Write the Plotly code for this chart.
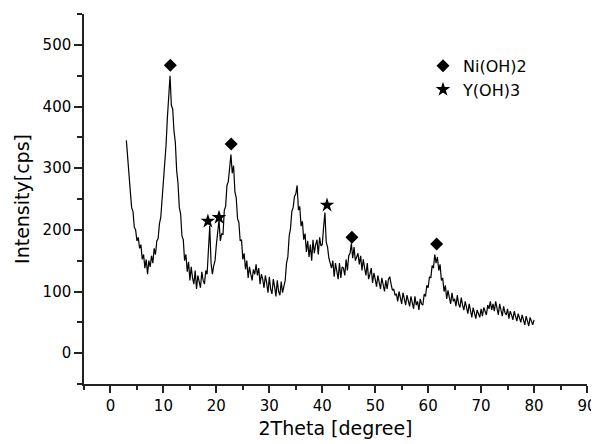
import plotly.graph_objects as go

# XRD pattern: intensity sampled every 0.25 degree starting at 2theta = 3.0
two_theta_start = 3.0
two_theta_step = 0.25
intensity = [
    345, 312, 278, 262,   # 3
    236, 230, 204, 200,   # 4
    182, 188, 170, 176,   # 5
    152, 160, 138, 152,   # 6
    128, 150, 140, 158,   # 7
    146, 170, 160, 182,   # 8
    186, 210, 220, 248,   # 9
    268, 302, 338, 382,   # 10
    420, 450, 402, 396,   # 11
    360, 342, 296, 276,   # 12
    236, 226, 190, 184,   # 13
    150, 160, 132, 148,   # 14
    118, 140, 122, 112,   # 15
    134, 104, 126, 116,   # 16
    106, 132, 118, 112,   # 17
    134, 128, 172, 206,   # 18
    146, 128, 142, 150,   # 19
    176, 194, 216, 182,   # 20
    194, 192, 232, 238,   # 21
    272, 278, 306, 322,   # 22
    292, 304, 262, 252,   # 23
    218, 212, 182, 184,   # 24
    152, 162, 136, 150,   # 25
    122, 140, 128, 118,   # 26
    136, 128, 144, 126,   # 27
    138, 112, 128, 120,   # 28
    106, 126, 114, 98,    # 29
    124, 104, 96, 120,    # 30
    108, 92, 118, 100,    # 31
    94, 116, 98, 110,     # 32
    118, 146, 156, 190,   # 33
    202, 230, 236, 254,   # 34
    258, 272, 232, 238,   # 35
    206, 214, 184, 194,   # 36
    164, 182, 156, 176,   # 37
    150, 184, 162, 176,   # 38
    184, 160, 188, 174,   # 39
    176, 204, 228, 180,   # 40
    172, 154, 146, 138,   # 41
    150, 124, 146, 132,   # 42
    120, 146, 122, 140,   # 43
    138, 126, 152, 134,   # 44
    158, 162, 178, 154,   # 45
    172, 150, 158, 162,   # 46
    144, 158, 134, 152,   # 47
    138, 126, 146, 120,   # 48
    128, 138, 114, 130,   # 49
    120, 108, 126, 114,   # 50
    104, 122, 110, 100,   # 51
    118, 104, 120, 124,   # 52
    112, 102, 104, 94,    # 53
    96, 84, 100, 90,      # 54
    80, 98, 86, 78,       # 55
    94, 84, 76, 92,       # 56
    80, 72, 92, 78,       # 57
    84, 70, 88, 80,       # 58
    78, 96, 92, 110,      # 59
    106, 124, 122, 142,   # 60
    138, 160, 146, 156,   # 61
    134, 144, 118, 122,   # 62
    100, 110, 88, 102,    # 63
    90, 80, 98, 84,       # 64
    88, 76, 94, 80,       # 65
    74, 90, 78, 70,       # 66
    84, 72, 64, 80,       # 67
    68, 58, 74, 62,       # 68
    56, 70, 64, 58,       # 69
    72, 60, 74, 68,       # 70
    62, 78, 72, 84,       # 71
    70, 80, 68, 84,       # 72
    74, 62, 80, 70,       # 73
    60, 76, 66, 62,       # 74
    72, 56, 68, 62,       # 75
    54, 68, 60, 52,       # 76
    64, 56, 50, 62,       # 77
    54, 46, 60, 52,       # 78
    44, 58, 50, 46,       # 79
    54,                   # 80
]

# Phase markers
ni_x = [11.3, 22.8, 45.6, 61.6]
ni_y = [467, 339, 188, 177]
y_x = [18.4, 20.5, 40.9]
y_y = [214, 220, 240]

x_tick_vals = [0, 10, 20, 30, 40, 50, 60, 70, 80, 90]
y_tick_vals = [0, 100, 200, 300, 400, 500]

FONT = "DejaVu Sans"
AXC = "#222222"

fig = go.Figure()
fig.add_trace(go.Scatter(
    y=intensity, x0=two_theta_start, dx=two_theta_step,
    mode="lines", line=dict(color="black", width=1.2),
    showlegend=False, hoverinfo="skip",
))
fig.add_trace(go.Scatter(
    x=ni_x, y=ni_y, mode="markers", name="Ni(OH)2",
    marker=dict(symbol="diamond", size=10, color="black"),
))
fig.add_trace(go.Scatter(
    x=y_x, y=y_y, mode="markers", name="Y(OH)3",
    marker=dict(symbol="star", size=11, color="black"),
))

axis_common = dict(
    showline=True, linecolor=AXC, linewidth=1.5,
    ticks="outside", tickcolor=AXC, tickwidth=1.5,
    showgrid=False, zeroline=False, automargin=False,
    tickfont=dict(family=FONT, size=15, color="black"),
)

fig.update_xaxes(
    range=[-5, 90], tickvals=x_tick_vals, ticklen=7,
    minor=dict(dtick=5, tick0=0, ticks="outside", ticklen=4, tickcolor=AXC, tickwidth=1.5),
    title=dict(text="2Theta [degree]", font=dict(family=FONT, size=19, color="black"), standoff=8),
    **axis_common,
)
fig.update_yaxes(
    range=[-50, 550], tickvals=y_tick_vals, ticklen=8,
    minor=dict(dtick=50, tick0=0, ticks="outside", ticklen=5, tickcolor=AXC, tickwidth=1.5),
    title=dict(text="Intensity[cps]", font=dict(family=FONT, size=19, color="black"), standoff=8),
    **axis_common,
)

# the page body adds an 8px offset, so the figure is 8px smaller and margins shifted
fig.update_layout(
    width=591, height=436,
    margin=dict(l=76, r=12, t=6, b=60),
    plot_bgcolor="white", paper_bgcolor="white",
    font=dict(family=FONT, color="black"),
    legend=dict(
        x=0.674, y=0.906, xanchor="left", yanchor="top",
        font=dict(family=FONT, size=16, color="black"),
        bgcolor="rgba(0,0,0,0)", borderwidth=0,
        tracegroupgap=0, itemwidth=30,
    ),
)

fig.write_html("out.html")
